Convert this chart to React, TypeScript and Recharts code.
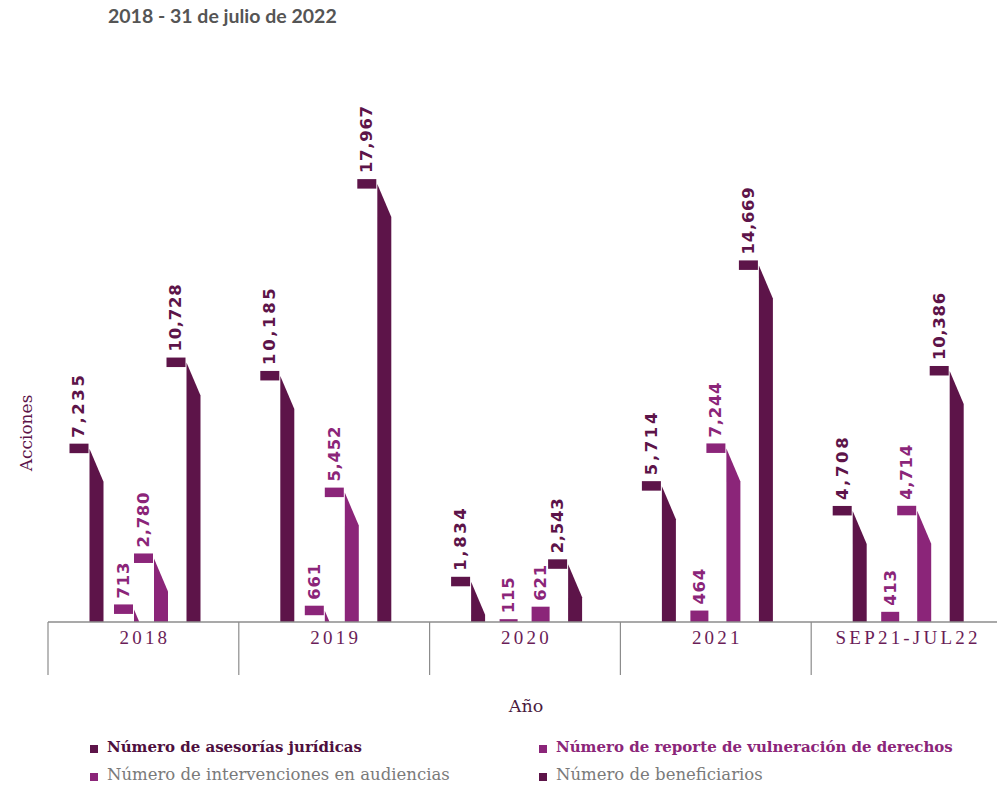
import { BarChart, Bar, XAxis, YAxis, LabelList } from 'recharts';

// Acciones por año
const categories = ['2018', '2019', '2020', '2021', 'SEP21-JUL22'];
const asesorias = [7235, 10185, 1834, 5714, 4708];
const reportes = [713, 661, 115, 464, 413];
const intervenciones = [2780, 5452, 621, 7244, 4714];
const beneficiarios = [10728, 17967, 2543, 14669, 10386];

const DARK = '#5d1449';
const MAGENTA = '#8b2579';

const CHART_W = 1002;
const CHART_H = 789;
const LEFT = 48;
const BAND = (CHART_W - LEFT) / categories.length;

const data = categories.map((name, i) => ({
  name,
  asesorias: asesorias[i],
  reportes: reportes[i],
  intervenciones: intervenciones[i],
  beneficiarios: beneficiarios[i],
}));

// flagShift: extra nudge of the flag shape (the reporte flags sit further right)
const series = [
  { key: 'asesorias', color: DARK, dx: 1.5, flagShift: 0, spacing: 2.6 },
  { key: 'reportes', color: MAGENTA, dx: 2, flagShift: 12, spacing: 0.7 },
  { key: 'intervenciones', color: MAGENTA, dx: 2, flagShift: 0, spacing: 0.7 },
  { key: 'beneficiarios', color: DARK, dx: 2.5, flagShift: 0, spacing: 0.7 },
];

const TAB_W = 19;
const SMALL_W = 18;
const SMALL_H = 16;

function FlagBar(props: any) {
  const { x, y, width, height, fill, dx, flagShift } = props;
  if (!height || height <= 0) return null;
  const base = y + height;
  if (height < SMALL_H) {
    const right = x + dx + width;
    return <rect x={right - SMALL_W} y={y} width={SMALL_W} height={height} fill={fill} />;
  }
  const bx = x + dx + flagShift;
  const y0 = y + 5;
  const y1 = y + 38;
  let pts;
  if (y1 <= base) {
    pts = `${bx},${y0} ${bx + width},${y1} ${bx + width},${base} ${bx},${base}`;
  } else {
    const xc = bx + (width * (base - y0)) / (y1 - y0);
    pts = `${bx},${y0} ${xc},${base} ${bx},${base}`;
  }
  return (
    <g>
      <rect x={bx - TAB_W - 1} y={y} width={TAB_W} height={9.5} fill={fill} />
      <polygon points={pts} fill={fill} />
    </g>
  );
}

function ValueLabel(props: any) {
  const vb = props.viewBox || props;
  const { value, dx, flagShift, fill, spacing } = props;
  const cx =
    vb.height < SMALL_H
      ? vb.x + dx + vb.width - SMALL_W / 2
      : vb.x + dx + flagShift - TAB_W / 2 - 1;
  const ty = vb.y - 6;
  return (
    <text
      x={cx}
      y={ty}
      transform={`rotate(-90 ${cx} ${ty})`}
      textAnchor="start"
      dominantBaseline="central"
      fill={fill}
      fontFamily="'DejaVu Sans', sans-serif"
      fontWeight="bold"
      fontSize={16.5}
      style={{ letterSpacing: spacing }}
    >
      {Number(value).toLocaleString('en-US')}
    </text>
  );
}

function CategoryTick(props: any) {
  const { x, y, payload } = props;
  const left = x - BAND / 2;
  return (
    <g>
      <line x1={left} y1={y} x2={left} y2={y + 53} stroke="#8c8c8c" strokeWidth={1.2} />
      <text
        x={x + 1.5}
        y={y + 15}
        textAnchor="middle"
        dominantBaseline="central"
        fill="#6a1d58"
        fontFamily="'Liberation Serif', serif"
        fontSize={19}
        style={{ letterSpacing: 3.2 }}
      >
        {payload.value}
      </text>
    </g>
  );
}

const legendItems = [
  { label: 'Número de asesorías jurídicas', marker: DARK, color: '#4e0f3e', bold: true, left: 90, top: 738 },
  { label: 'Número de reporte de vulneración de derechos', marker: MAGENTA, color: MAGENTA, bold: true, left: 539, top: 738 },
  { label: 'Número de intervenciones en audiencias', marker: MAGENTA, color: '#7a7a7a', bold: false, left: 90, top: 765 },
  { label: 'Número de beneficiarios', marker: DARK, color: '#7a7a7a', bold: false, left: 539, top: 765 },
];

export default function App() {
  return (
    <div
      style={{
        position: 'absolute',
        left: 0,
        top: 0,
        width: 997,
        height: 789,
        overflow: 'hidden',
        background: '#fff',
      }}
    >
      <div
        style={{
          position: 'absolute',
          left: 108,
          top: 4,
          fontFamily: 'Lato, sans-serif',
          fontWeight: 700,
          fontSize: 19.5,
          color: '#555',
          whiteSpace: 'nowrap',
        }}
      >
        2018 - 31 de julio de 2022
      </div>

      <BarChart
        width={CHART_W}
        height={CHART_H}
        data={data}
        margin={{ top: 129, right: 0, left: LEFT, bottom: 0 }}
        barSize={14}
        barGap={18}
      >
        <XAxis
          dataKey="name"
          height={167}
          axisLine={{ stroke: '#8c8c8c', strokeWidth: 1.5 }}
          tickLine={false}
          tickSize={0}
          tickMargin={0}
          interval={0}
          tick={<CategoryTick />}
        />
        <YAxis hide domain={[0, 20000]} />
        {series.map((s) => (
          <Bar
            key={s.key}
            dataKey={s.key}
            fill={s.color}
            isAnimationActive={false}
            shape={(p: any) => <FlagBar {...p} fill={s.color} dx={s.dx} flagShift={s.flagShift} />}
          >
            <LabelList
              dataKey={s.key}
              content={(p: any) => (
                <ValueLabel {...p} fill={s.color} dx={s.dx} flagShift={s.flagShift} spacing={s.spacing} />
              )}
            />
          </Bar>
        ))}
      </BarChart>

      <div
        style={{
          position: 'absolute',
          left: 26,
          top: 433,
          transform: 'translate(-50%, -50%) rotate(-90deg)',
          fontFamily: "'DejaVu Serif', serif",
          fontSize: 17,
          color: '#5d1449',
          whiteSpace: 'nowrap',
        }}
      >
        Acciones
      </div>

      <div
        style={{
          position: 'absolute',
          left: 526,
          top: 706,
          transform: 'translate(-50%, -50%)',
          fontFamily: "'DejaVu Serif', serif",
          fontSize: 17.5,
          color: '#4a1a3e',
          whiteSpace: 'nowrap',
        }}
      >
        Año
      </div>

      {legendItems.map((it) => (
        <div
          key={it.label}
          style={{
            position: 'absolute',
            left: it.left,
            top: it.top,
            display: 'flex',
            alignItems: 'center',
            fontFamily: "'DejaVu Serif', serif",
            fontSize: it.bold ? 15 : 16.5,
            fontWeight: it.bold ? 700 : 400,
            color: it.color,
            whiteSpace: 'nowrap',
          }}
        >
          <span
            style={{
              display: 'inline-block',
              width: 8,
              height: 8,
              background: it.marker,
              marginRight: 9,
              marginTop: 4,
            }}
          />
          {it.label}
        </div>
      ))}
    </div>
  );
}
